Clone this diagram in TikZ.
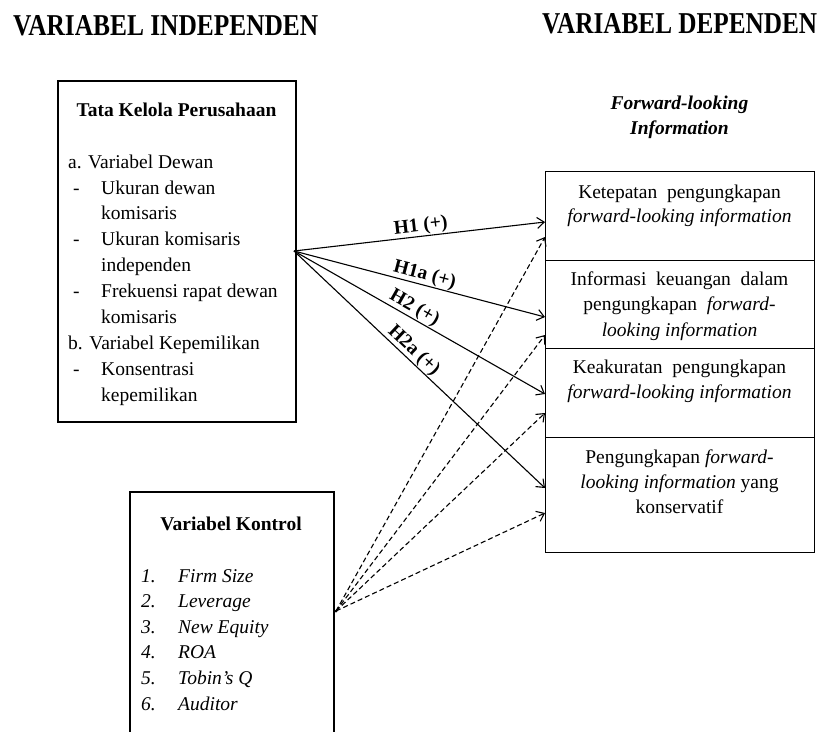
\documentclass[tikz,border=0pt]{standalone}
\usepackage{fontspec}
\setmainfont{Liberation Serif}
\usetikzlibrary{arrows.meta}
\begin{document}
\begin{tikzpicture}[x=1pt,y=-1pt,
  txt/.style={font=\fontsize{19.5}{25.8}\selectfont, inner sep=0pt, anchor=base west},
  ctxt/.style={font=\fontsize{19.5}{25.8}\selectfont, inner sep=0pt, anchor=base},
  thickbox/.style={draw, line width=2.3pt, inner sep=0pt, anchor=north west},
  thinbox/.style={draw, line width=1.1pt, inner sep=0pt, anchor=north west, minimum width=269pt},
  hyp/.style={line width=1.1pt, -{Straight Barb[length=7pt,width=11pt]}},
  ctl/.style={hyp, dash pattern=on 5pt off 3pt},
  hlab/.style={font=\fontsize{19.5}{20}\selectfont\bfseries, sloped, above, inner sep=0.5pt},
  head/.style={inner sep=0pt, anchor=base west},
]
\clip (0,0) rectangle (821,731);
\fill[white] (0,0) rectangle (821,731);

% headings
\node[head] (hind) at (13,35) {\resizebox{305pt}{20pt}{\bfseries VARIABEL INDEPENDEN}};
\node[head] (hdep) at (542,33) {\resizebox{275pt}{20pt}{\bfseries VARIABEL DEPENDEN}};

% left box
\node[thickbox, minimum width=238pt, minimum height=341pt] (tk) at (57,80) {};
\node[ctxt, font=\fontsize{19.5}{25.8}\selectfont\bfseries] (tkt) at (176.5,116) {Tata Kelola Perusahaan};
\node[txt] (l1) at (68,168) {a. Variabel Dewan};
\node[txt] (l2) at (73,194) {\makebox[28pt][l]{-}Ukuran dewan};
\node[txt] (l3) at (101,219) {komisaris};
\node[txt] (l4) at (73,245) {\makebox[28pt][l]{-}Ukuran komisaris};
\node[txt] (l5) at (101,271) {independen};
\node[txt] (l6) at (73,297) {\makebox[28pt][l]{-}Frekuensi rapat dewan};
\node[txt] (l7) at (101,323) {komisaris};
\node[txt] (l8) at (68,349) {b. Variabel Kepemilikan};
\node[txt] (l9) at (73,375) {\makebox[28pt][l]{-}Konsentrasi};
\node[txt] (l10) at (101,401) {kepemilikan};

% control box
\node[thickbox, minimum width=204pt, minimum height=270pt] (ctrl) at (129,491) {};
\node[ctxt, font=\fontsize{19.5}{25.8}\selectfont\bfseries] (ctt) at (231,530) {Variabel Kontrol};
\node[txt, font=\fontsize{19.5}{25.8}\selectfont\itshape] (c1) at (141,582) {\makebox[37pt][l]{1.}Firm Size};
\node[txt, font=\fontsize{19.5}{25.8}\selectfont\itshape] (c2) at (141,607) {\makebox[37pt][l]{2.}Leverage};
\node[txt, font=\fontsize{19.5}{25.8}\selectfont\itshape] (c3) at (141,633) {\makebox[37pt][l]{3.}New Equity};
\node[txt, font=\fontsize{19.5}{25.8}\selectfont\itshape] (c4) at (141,658) {\makebox[37pt][l]{4.}ROA};
\node[txt, font=\fontsize{19.5}{25.8}\selectfont\itshape] (c5) at (141,684) {\makebox[37pt][l]{5.}Tobin’s Q};
\node[txt, font=\fontsize{19.5}{25.8}\selectfont\itshape] (c6) at (141,710) {\makebox[37pt][l]{6.}Auditor};

% dependent heading
\node[ctxt, font=\fontsize{19.5}{25.8}\selectfont\bfseries\itshape] (fl1) at (679.5,109) {Forward-looking};
\node[ctxt, font=\fontsize{19.5}{25.8}\selectfont\bfseries\itshape] (fl2) at (679.5,134) {Information};

% right boxes
\node[thinbox, minimum height=89pt] (r1) at (545,171) {};
\node[thinbox, minimum height=88pt] (r2) at (545,260) {};
\node[thinbox, minimum height=89pt] (r3) at (545,348) {};
\node[thinbox, minimum height=115pt] (r4) at (545,437) {};

\node[ctxt] (r1a) at (679.5,198) {Ketepatan\ \ pengungkapan};
\node[ctxt] (r1b) at (679.5,222) {\textit{forward-looking information}};
\node[ctxt] (r2a) at (679.5,285) {Informasi\ \ keuangan\ \ dalam};
\node[ctxt] (r2b) at (679.5,310) {pengungkapan\ \ \textit{forward-}};
\node[ctxt] (r2c) at (679.5,336) {\textit{looking information}};
\node[ctxt] (r3a) at (679.5,373) {Keakuratan\ \ pengungkapan};
\node[ctxt] (r3b) at (679.5,398) {\textit{forward-looking information}};
\node[ctxt] (r4a) at (679.5,463) {Pengungkapan \textit{forward-}};
\node[ctxt] (r4b) at (679.5,488) {\textit{looking information} yang};
\node[ctxt] (r4c) at (679.5,513) {konservatif};

% arrow end points
\coordinate (src) at (294,251);
\coordinate (csrc) at (336,611);
\coordinate (t1) at (545,222);
\coordinate (t2) at (545,317);
\coordinate (t3) at (545,394);
\coordinate (t4) at (545,488);
\coordinate (d1) at (545,237);
\coordinate (d2) at (545,335);
\coordinate (d3) at (545,413);
\coordinate (d4) at (545,513);

\draw[hyp] (src) -- node[hlab, pos=0.51] {H1 (+)} (t1);
\draw[hyp] (src) -- node[hlab, pos=0.51] {H1a (+)} (t2);
\draw[hyp] (src) -- node[hlab, pos=0.46] {H2 (+)} (t3);
\draw[hyp] (src) -- node[hlab, pos=0.45] {H2a (+)} (t4);

\draw[ctl] (csrc) -- (d1);
\draw[ctl] (csrc) -- (d2);
\draw[ctl] (csrc) -- (d3);
\draw[ctl] (csrc) -- (d4);
\fill (csrc) circle (1.5pt);
\end{tikzpicture}
\end{document}
